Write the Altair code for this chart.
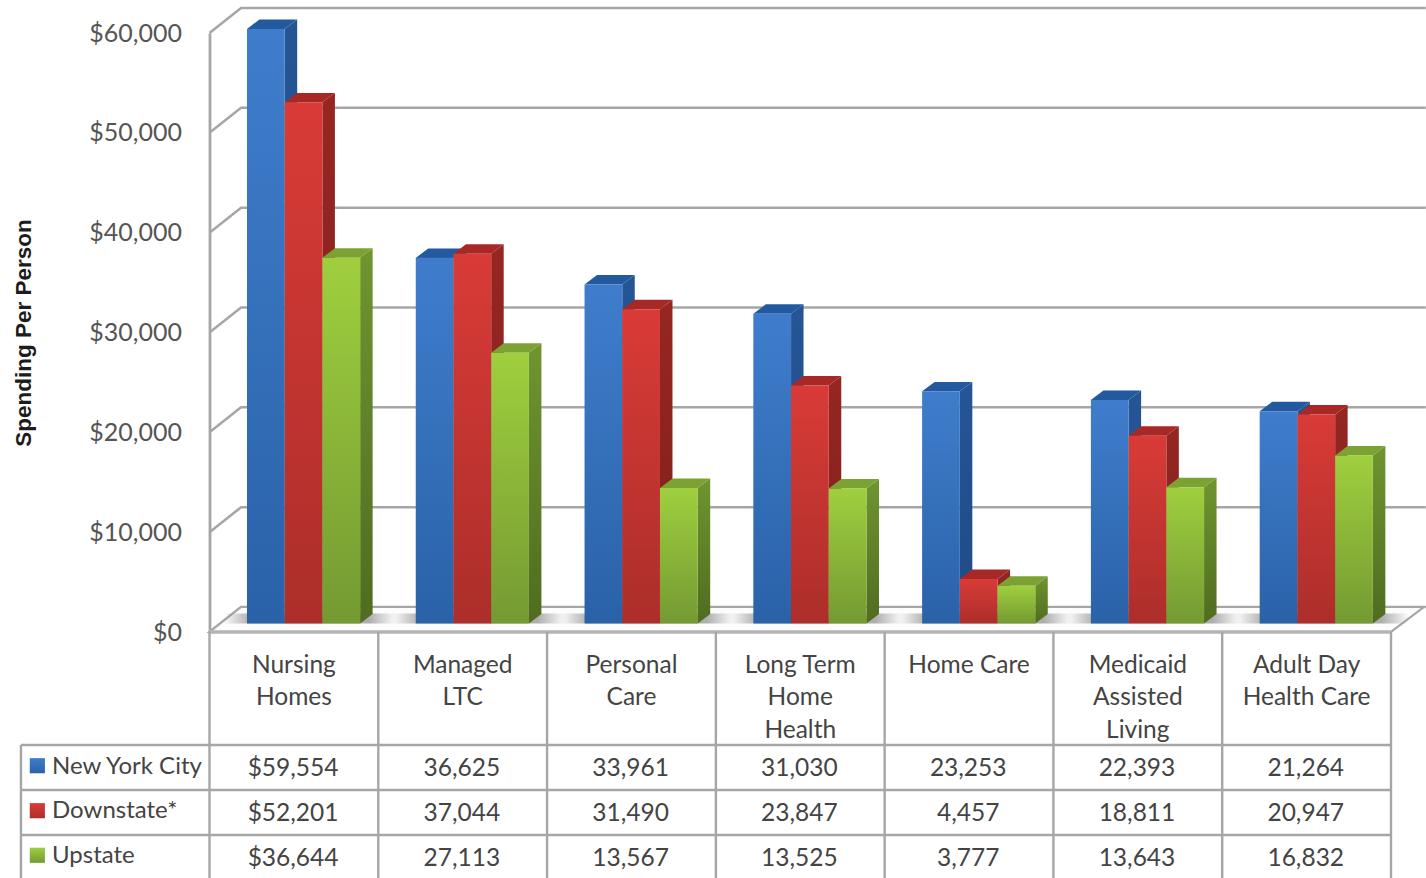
import altair as alt
import pandas as pd

# Spending per person by long-term-care service and region
category_lines = [["Nursing", "Homes"], ["Managed", "LTC"], ["Personal", "Care"],
                  ["Long Term", "Home", "Health"], ["Home Care"],
                  ["Medicaid", "Assisted", "Living"], ["Adult Day", "Health Care"]]
new_york_city = [59554, 36625, 33961, 31030, 23253, 22393, 21264]
downstate = [52201, 37044, 31490, 23847, 4457, 18811, 20947]
upstate = [36644, 27113, 13567, 13525, 3777, 13643, 16832]
series_names = ["New York City", "Downstate*", "Upstate"]
series_values = [new_york_city, downstate, upstate]
ticks = [0, 10000, 20000, 30000, 40000, 50000, 60000]

# Colours per series: front top, front bottom, side top, side bottom, lid
palette = [
    ("#3f7dcc", "#2a62a8", "#265596", "#1f4a84", "#22599f"),
    ("#d93b37", "#ac2e2a", "#962622", "#7e201c", "#a82826"),
    ("#9fcf3e", "#749a32", "#6f9530", "#4f6c20", "#7ba232"),
]

# Faux-3D depth, expressed in the units of the two position scales
WALL_DX, WALL_DY = 0.187, 2504      # back wall relative to the front edge
BAR_LIFT = 850                      # bars stand part-way back on the floor
BAR_DX, BAR_DY = 0.074, 950         # depth of a single bar
BAR_START, BAR_W = 0.222, 0.2235    # first bar offset and bar width in a category slot
RIGHT_EDGE = 7.2065
TABLE_LEFT = -1.117

FONT = "Lato"
LINE = "#a6a6a6"
TEXT = "#444444"

x_scale = alt.Scale(domain=[0, 7], range=[209.5, 1391])
value_scale = alt.Scale(domain=[0, 60000], range=[632, 33])
row_scale = alt.Scale(domain=[-2.511, 3], range=[632, 880])


def X(field="x"):
    return alt.X(f"{field}:Q", scale=x_scale, axis=None)


def VY(field="y"):
    return alt.Y(f"{field}:Q", scale=value_scale, axis=None)


def RY(field="row"):
    return alt.Y(f"{field}:Q", scale=row_scale, axis=None)


def gradient(stops, horizontal=False):
    return alt.LinearGradient(
        gradient="linear", x1=0, y1=0, x2=1 if horizontal else 0, y2=0 if horizontal else 1,
        stops=[alt.GradientStop(color=c, offset=o) for c, o in stops])


def vgrad(c0, c1):
    return gradient([(c0, 0), (c1, 1)])


layers = []

# Back wall and side wall gridlines, with the labelled value axis
grid = pd.DataFrame(
    [{"tick": t, "x": px, "y": t + py}
     for t in ticks
     for px, py in [(0, 0), (WALL_DX, WALL_DY), (RIGHT_EDGE, WALL_DY)]]
)
layers.append(
    alt.Chart(grid).mark_line(color=LINE, strokeWidth=2.5).encode(
        x=X(),
        y=alt.Y("y:Q", scale=value_scale, axis=alt.Axis(
            values=ticks, format="$,.0f", offset=-209.5, grid=False,
            ticks=False, domainColor=LINE, domainWidth=2.8,
            labelFont=FONT, labelFontSize=25, labelColor="#555555", labelPadding=28,
            labelFlush=False, title="Spending Per Person",
            titleFont="Liberation Sans", titleFontSize=22.5, titleFontWeight="bold",
            titleColor="#1c1c1c", titlePadding=53)),
        detail="tick:N",
    )
)

# Floor of the chart box
floor = pd.DataFrame([
    {"x": 0, "x2": 7, "y": 0},
    {"x": WALL_DX, "x2": RIGHT_EDGE - 0.012, "y": WALL_DY},
])
layers.append(
    alt.Chart(floor).mark_area(orient="horizontal", color="#fcfcfc", stroke=LINE, strokeWidth=2.2).encode(
        x=X(), x2="x2:Q", y=VY())
)
layers.append(
    alt.Chart(pd.DataFrame({"x": [0], "x2": [7], "y": [0]})).mark_rule(color="#b4b4b4", strokeWidth=3.4).encode(
        x=X(), x2="x2:Q", y=VY())
)

# Soft shadow on the floor around each group of bars
shadow = pd.DataFrame([
    {"x": i + BAR_START - 0.14, "x2": i + BAR_START + 3 * BAR_W + BAR_DX + 0.14,
     "y": BAR_LIFT, "y2": BAR_LIFT + 1000}
    for i in range(7)
])
layers.append(
    alt.Chart(shadow).mark_rect(color=gradient(
        [("rgba(140,140,140,0)", 0), ("rgba(140,140,140,0.7)", 0.16),
         ("rgba(140,140,140,0.7)", 0.84), ("rgba(140,140,140,0)", 1)], horizontal=True)
    ).encode(x=X(), x2="x2:Q", y=VY(), y2="y2:Q")
)

# The bars: side, lid and front for each series, drawn back to front
for s, values in enumerate(series_values):
    front_top, front_bot, side_top, side_bot, lid = palette[s]
    fronts, sides, lids = [], [], []
    for i, v in enumerate(values):
        left = i + BAR_START + s * BAR_W
        right = left + BAR_W
        top = v + BAR_LIFT
        fronts.append({"x": left, "x2": right, "y": top, "y2": BAR_LIFT})
        sides.append({"bar": i, "x": right, "y": top, "y2": BAR_LIFT})
        sides.append({"bar": i, "x": right + BAR_DX, "y": top + BAR_DY, "y2": BAR_LIFT + BAR_DY})
        lids.append({"bar": i, "x": left, "x2": right, "y": top})
        lids.append({"bar": i, "x": left + BAR_DX, "x2": right + BAR_DX, "y": top + BAR_DY})
    layers.append(
        alt.Chart(pd.DataFrame(sides)).mark_area(orient="vertical", color=vgrad(side_top, side_bot)).encode(
            x=X(), y=VY(), y2="y2:Q", detail="bar:N")
    )
    layers.append(
        alt.Chart(pd.DataFrame(lids)).mark_area(orient="horizontal", color=lid).encode(
            x=X(), x2="x2:Q", y=VY(), detail="bar:N")
    )
    layers.append(
        alt.Chart(pd.DataFrame(fronts)).mark_rect(color=vgrad(front_top, front_bot)).encode(
            x=X(), x2="x2:Q", y=VY(), y2="y2:Q")
    )

# Data table: rules
v_rules = pd.DataFrame(
    [{"x": k, "row": -2.511, "row2": 3} for k in range(8)]
    + [{"x": TABLE_LEFT, "row": 0, "row2": 3}]
)
h_rules = pd.DataFrame([{"x": TABLE_LEFT, "x2": 7, "row": r} for r in range(3)])
layers.append(
    alt.Chart(v_rules).mark_rule(color=LINE, strokeWidth=2.4).encode(x=X(), y=RY(), y2="row2:Q")
)
layers.append(
    alt.Chart(h_rules).mark_rule(color=LINE, strokeWidth=2.4).encode(x=X(), x2="x2:Q", y=RY())
)

# Data table: category heading lines
heading_rows = [-1.76, -1.05, -0.31]
headings = pd.DataFrame(
    [{"x": i + 0.5, "row": heading_rows[n], "label": line}
     for i, lines in enumerate(category_lines) for n, line in enumerate(lines)]
)
layers.append(
    alt.Chart(headings).mark_text(font=FONT, fontSize=24.5, color=TEXT, align="center", baseline="middle").encode(
        x=X(), y=RY(), text="label:N")
)

# Data table: values
cells = pd.DataFrame(
    [{"x": i + 0.495, "row": s + 0.53, "label": f"${v:,}" if i == 0 else f"{v:,}"}
     for s, values in enumerate(series_values) for i, v in enumerate(values)]
)
layers.append(
    alt.Chart(cells).mark_text(font=FONT, fontSize=24.5, color=TEXT, align="center", baseline="middle").encode(
        x=X(), y=RY(), text="label:N")
)

# Data table: series names with their colour keys
legend_rows = [0.48, 1.47, 2.47]
swatch_rows = [0.46, 1.46, 2.45]
legend_labels = pd.DataFrame(
    [{"x": -0.933, "row": legend_rows[s], "label": n} for s, n in enumerate(series_names)]
)
layers.append(
    alt.Chart(legend_labels).mark_text(font=FONT, fontSize=24, color=TEXT, align="left", baseline="middle").encode(
        x=X(), y=RY(), text="label:N")
)
for s in range(3):
    layers.append(
        alt.Chart(pd.DataFrame({"x": [-1.02], "row": [swatch_rows[s]]})).mark_square(
            size=230, opacity=1, color=vgrad(palette[s][0], palette[s][1])
        ).encode(x=X(), y=RY())
    )

chart = (
    alt.layer(*layers)
    .resolve_scale(y="independent")
    .properties(width=1426, height=878, padding=0,
                autosize=alt.AutoSizeParams(type="none"), background="white")
    .configure_view(stroke=None)
)

chart.save("out.html", embed_options={"renderer": "svg", "actions": False})
